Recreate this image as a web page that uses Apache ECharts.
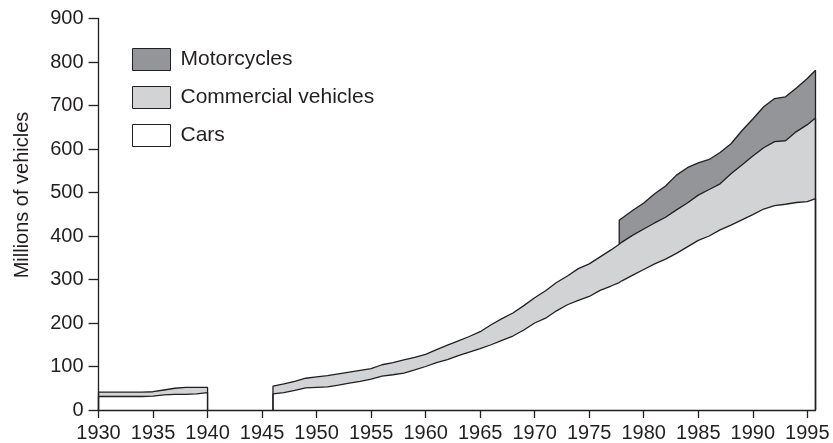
<!DOCTYPE html>
<html>
<head>
<meta charset="utf-8">
<script src="https://cdn.jsdelivr.net/npm/echarts@6/dist/echarts.min.js"></script>
<style>
  html, body { margin: 0; padding: 0; background: #ffffff; }
  #chart { width: 833px; height: 443px; }
</style>
</head>
<body>
<div id="chart"></div>
<script>
// ---- Data (millions of vehicles) ----
const xTicks = [1930, 1935, 1940, 1945, 1950, 1955, 1960, 1965, 1970, 1975, 1980, 1985, 1990, 1995];
const yTicks = [0, 100, 200, 300, 400, 500, 600, 700, 800, 900];

const prewarYears      = [1930, 1931, 1932, 1933, 1934, 1935, 1936, 1937, 1938, 1939, 1940];
const prewarCars       = [31, 31, 31, 31, 31, 32, 35, 36, 36, 37, 40];
const prewarCommercial = [10, 10, 10, 10, 10, 10, 11, 14, 16, 15, 12];

const postwarYears = [1946, 1947, 1948, 1949, 1950, 1951, 1952, 1953, 1954, 1955,
  1956, 1957, 1958, 1959, 1960, 1961, 1962, 1963, 1964, 1965,
  1966, 1967, 1968, 1969, 1970, 1971, 1972, 1973, 1974, 1975,
  1976, 1977, 1977.75, 1978, 1979, 1980, 1981, 1982, 1983, 1984,
  1985, 1986, 1987, 1988, 1989, 1990, 1991, 1992, 1993, 1994,
  1995, 1995.75];
const postwarCars = [37, 40, 45, 51, 52, 53, 57, 62, 66, 71,
  78, 81, 85, 92, 100, 109, 116, 125, 133, 141,
  150, 160, 170, 184, 200, 211, 228, 242, 252, 261,
  275, 285, 293, 297, 310, 323, 336, 347, 360, 375,
  390, 400, 414, 425, 437, 449, 462, 470, 473, 477,
  479, 486];
const postwarCommercial = [18, 20, 21, 22, 24, 26, 26, 25, 25, 24,
  26, 28, 30, 29, 28, 30, 33, 34, 36, 39,
  46, 50, 53, 56, 58, 63, 65, 66, 73, 75,
  77, 83, 88, 89, 92, 93, 94, 96, 100, 101,
  104, 107, 106, 118, 126, 135, 141, 147, 146, 163,
  177, 185];
const postwarMotorcycles = [null, null, null, null, null, null, null, null, null, null,
  null, null, null, null, null, null, null, null, null, null,
  null, null, null, null, null, null, null, null, null, null,
  null, null, 55, 55, 57, 60, 67, 72, 80, 81,
  74, 69, 72, 69, 79, 85, 94, 99, 101, 100,
  106, 110];

// ---- Colours ----
const INK = '#231f20';
const MOTO_FILL = '#939598';
const COMM_FILL = '#d1d3d4';
const CARS_FILL = '#ffffff';
const FONT = 'Liberation Sans, Arial, Helvetica, sans-serif';

// ---- Build outlines from the data ----
function closedSegment(xs, ys) {
  const pts = [[xs[0], 0]];
  xs.forEach((x, i) => pts.push([x, ys[i]]));
  pts.push([xs[xs.length - 1], 0]);
  return pts;
}
const GAP = [[1943, '-']];

const prewarCommTop = prewarCars.map((v, i) => v + prewarCommercial[i]);
const postwarCommTop = postwarCars.map((v, i) => v + postwarCommercial[i]);

const carsData = closedSegment(prewarYears, prewarCars)
  .concat(GAP, closedSegment(postwarYears, postwarCars));
const commData = closedSegment(prewarYears, prewarCommTop)
  .concat(GAP, closedSegment(postwarYears, postwarCommTop));

const motoData = [];
let firstMoto = -1;
postwarYears.forEach((x, i) => {
  const m = postwarMotorcycles[i];
  if (m == null) return;
  if (firstMoto < 0) { firstMoto = i; motoData.push([x, postwarCommTop[i]]); }
  motoData.push([x, postwarCommTop[i] + m]);
});
motoData.push([postwarYears[postwarYears.length - 1], 0]);

function areaSeries(name, data, fill) {
  return {
    name: name,
    type: 'line',
    data: data,
    symbol: 'none',
    connectNulls: false,
    silent: true,
    lineStyle: { color: INK, width: 1.3 },
    itemStyle: { color: fill, borderColor: INK, borderWidth: 1 },
    areaStyle: { color: fill, opacity: 1, origin: 'start' },
    z: 2
  };
}

const chart = echarts.init(document.getElementById('chart'), null, { renderer: 'canvas' });
chart.setOption({
  animation: false,
  backgroundColor: '#ffffff',
  grid: { left: 98.5, right: 17.5, top: 18.5, bottom: 33 },
  legend: {
    orient: 'vertical',
    left: 127,
    top: 43,
    itemWidth: 38,
    itemHeight: 22,
    itemGap: 15,
    selectedMode: false,
    textStyle: { color: INK, fontSize: 21, fontFamily: FONT, padding: [0, 0, 0, 5] },
    data: [
      { name: 'Motorcycles', icon: 'rect', itemStyle: { color: MOTO_FILL, borderColor: INK, borderWidth: 1 } },
      { name: 'Commercial vehicles', icon: 'rect', itemStyle: { color: COMM_FILL, borderColor: INK, borderWidth: 1 } },
      { name: 'Cars', icon: 'rect', itemStyle: { color: CARS_FILL, borderColor: INK, borderWidth: 1 } }
    ]
  },
  xAxis: {
    type: 'value',
    min: 1930,
    max: postwarYears[postwarYears.length - 1],
    interval: 5,
    z: 10,
    axisLine: { show: true, lineStyle: { color: INK, width: 1.3 } },
    axisTick: { show: true, length: 8, customValues: xTicks, lineStyle: { color: INK, width: 1.3 } },
    axisLabel: { customValues: xTicks, formatter: v => String(v), color: INK, fontSize: 20, fontFamily: FONT, margin: 13 },
    splitLine: { show: false }
  },
  yAxis: {
    type: 'value',
    min: 0,
    max: 900,
    interval: 100,
    z: 10,
    axisLine: { show: true, lineStyle: { color: INK, width: 1.3 } },
    axisTick: { show: true, length: 10, lineStyle: { color: INK, width: 1.3 } },
    axisLabel: { customValues: yTicks, formatter: v => String(v), color: INK, fontSize: 20, fontFamily: FONT, margin: 15 },
    splitLine: { show: false }
  },
  graphic: [{
    type: 'text',
    x: 22,
    y: 195,
    rotation: Math.PI / 2,
    style: {
      text: 'Millions of vehicles',
      fill: INK,
      fontSize: 20,
      fontFamily: FONT,
      align: 'center',
      verticalAlign: 'middle'
    }
  }],
  series: [
    areaSeries('Motorcycles', motoData, MOTO_FILL),
    areaSeries('Commercial vehicles', commData, COMM_FILL),
    areaSeries('Cars', carsData, CARS_FILL)
  ]
});
</script>
</body>
</html>
